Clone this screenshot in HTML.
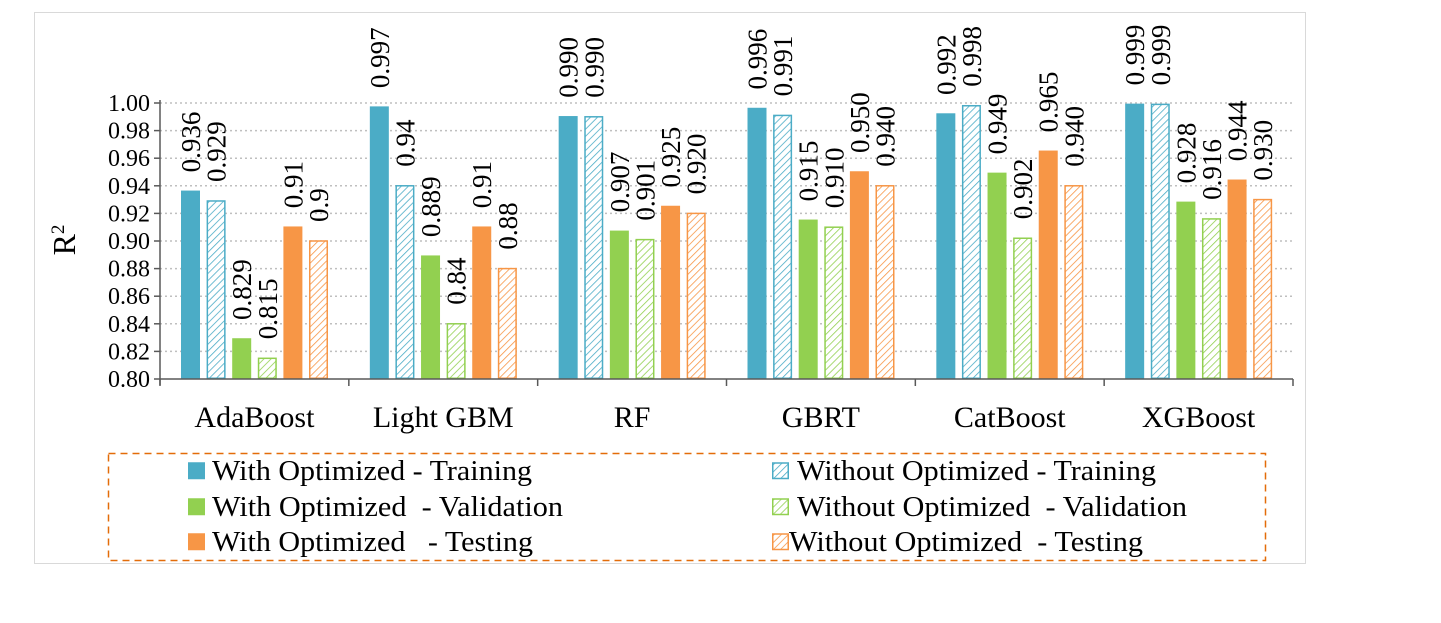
<!DOCTYPE html>
<html><head><meta charset="utf-8">
<style>
html,body{margin:0;padding:0;background:#fff;}
svg{display:block;font-family:"Liberation Serif",serif;}
</style></head>
<body>
<svg id="chart" width="1441" height="623" viewBox="0 0 1441 623">
<defs>
<pattern id="hb" patternUnits="userSpaceOnUse" width="5" height="5" patternTransform="rotate(45)"><rect width="5" height="5" fill="#fff"/><line x1="0" y1="0" x2="0" y2="5" stroke="#4BACC6" stroke-width="1.6"/></pattern>
<pattern id="hg" patternUnits="userSpaceOnUse" width="5" height="5" patternTransform="rotate(45)"><rect width="5" height="5" fill="#fff"/><line x1="0" y1="0" x2="0" y2="5" stroke="#92D050" stroke-width="1.6"/></pattern>
<pattern id="ho" patternUnits="userSpaceOnUse" width="5" height="5" patternTransform="rotate(45)"><rect width="5" height="5" fill="#fff"/><line x1="0" y1="0" x2="0" y2="5" stroke="#F79646" stroke-width="1.6"/></pattern>
</defs>
<rect x="34.5" y="12.5" width="1271" height="551" fill="#fff" stroke="#d9d9d9"/>
<g id="grid"></g><g id="bars"></g><g id="labels"></g><g id="axes"></g>
<text x="75" y="240" font-size="32" text-anchor="middle" transform="rotate(-90 75 240)">R<tspan dy="-11" font-size="19">2</tspan></text>
<rect x="108.5" y="453.5" width="1157" height="107" fill="none" stroke="#E36C09" stroke-width="1.5" stroke-dasharray="7,5"/>
<g id="legend"></g>
</svg>
<script>
const categories = ["AdaBoost","Light GBM","RF","GBRT","CatBoost","XGBoost"];
const seriesNames = ["With Optimized - Training","Without Optimized - Training","With Optimized  - Validation","Without Optimized  - Validation","With Optimized   - Testing","Without Optimized  - Testing"];
const withTrain = [0.936,0.997,0.990,0.996,0.992,0.999];
const withoutTrain = [0.929,0.94,0.990,0.991,0.998,0.999];
const withVal = [0.829,0.889,0.907,0.915,0.949,0.928];
const withoutVal = [0.815,0.84,0.901,0.910,0.902,0.916];
const withTest = [0.91,0.91,0.925,0.950,0.965,0.944];
const withoutTest = [0.9,0.88,0.920,0.940,0.940,0.930];
const labelTexts = [
 ["0.936","0.997","0.990","0.996","0.992","0.999"],
 ["0.929","0.94","0.990","0.991","0.998","0.999"],
 ["0.829","0.889","0.907","0.915","0.949","0.928"],
 ["0.815","0.84","0.901","0.910","0.902","0.916"],
 ["0.91","0.91","0.925","0.950","0.965","0.944"],
 ["0.9","0.88","0.920","0.940","0.940","0.930"]];
const yTicks = [0.80,0.82,0.84,0.86,0.88,0.90,0.92,0.94,0.96,0.98,1.00];

const series=[withTrain,withoutTrain,withVal,withoutVal,withTest,withoutTest];
const fills=["#4BACC6","url(#hb)","#92D050","url(#hg)","#F79646","url(#ho)"];
const strokes=["#4BACC6","#4BACC6","#92D050","#92D050","#F79646","#F79646"];
const NS="http://www.w3.org/2000/svg";
const X0=160,X1=1293,Y0=379,Y1=103,yMin=0.80,yMax=1.00;
const gw=(X1-X0)/categories.length;
function y(v){return Y0-(v-yMin)/(yMax-yMin)*(Y0-Y1);}
function xb(g,s){return X0+g*gw+21+s*25.6;}
function mk(t,a,p){const e=document.createElementNS(NS,t);for(const k in a)e.setAttribute(k,a[k]);p.appendChild(e);return e;}
const grid=document.getElementById('grid'),axes=document.getElementById('axes'),bars=document.getElementById('bars'),labels=document.getElementById('labels'),legend=document.getElementById('legend');
yTicks.forEach(t=>{
 if(t>yMin){const l=mk('line',{x1:X0,x2:X1,y1:y(t),y2:y(t),stroke:'#bfbfbf','stroke-width':1.5,'stroke-dasharray':'2,3'},grid);
 
 }
 const tk=mk('line',{x1:X0-6,x2:X0,y1:y(t),y2:y(t),stroke:'#595959','stroke-width':1.5},axes);
 
 
 const tx=mk('text',{x:X0-10,y:y(t)+8,'font-size':24,'text-anchor':'end'},axes);
 tx.textContent=t.toFixed(2);
 
 
});
const ya=mk('line',{x1:X0,x2:X0,y1:Y1-3,y2:Y0+6,stroke:'#595959','stroke-width':1.5},axes);


const xa=mk('line',{x1:X0,x2:X1,y1:Y0,y2:Y0,stroke:'#595959','stroke-width':1.5},axes);


for(let g=0;g<=categories.length;g++){
 const d=mk('line',{x1:X0+g*gw,x2:X0+g*gw,y1:Y0,y2:Y0+7,stroke:'#595959','stroke-width':1.5},axes);
 
 
}
categories.forEach((c,g)=>{
 const t=mk('text',{x:X0+g*gw+gw/2,y:427,'font-size':30,'text-anchor':'middle'},axes);
 t.textContent=c;
 
 
 series.forEach((s,i)=>{
  const x=xb(g,i),top=y(s[g]);
  const r=mk('rect',{x:x+0.75,y:top,width:17.5,height:Y0-top-0.75,fill:fills[i],stroke:strokes[i],'stroke-width':1.5},bars);
  
  
  const lx=x+9+10,ly=top-19;
  const lt=mk('text',{x:lx,y:ly,'font-size':27,transform:`rotate(-90 ${lx} ${ly})`},labels);
  lt.textContent=labelTexts[i][g];
  
  
 });
});
const legFill=["#4BACC6","url(#hb)","#92D050","url(#hg)","#F79646","url(#ho)"];
const lpos=[[188,212,480,320],[772,797,480,359],[188,212,516,351],[772,797,516,390],[188,212,551,321],[772,789,551,354]];
seriesNames.forEach((n,i)=>{
 const p=lpos[i];
 const sq=mk('rect',{x:p[0]+0.75,y:p[2]-17,width:15.5,height:15.5,fill:legFill[i],stroke:strokes[i],'stroke-width':1.5},legend);
 
 
 const t=mk('text',{x:p[1],y:p[2],'font-size':28,textLength:p[3],lengthAdjust:'spacingAndGlyphs'},legend);
 t.textContent=n;
 t.style.whiteSpace='pre';
 
 
});
</script>
</body></html>
